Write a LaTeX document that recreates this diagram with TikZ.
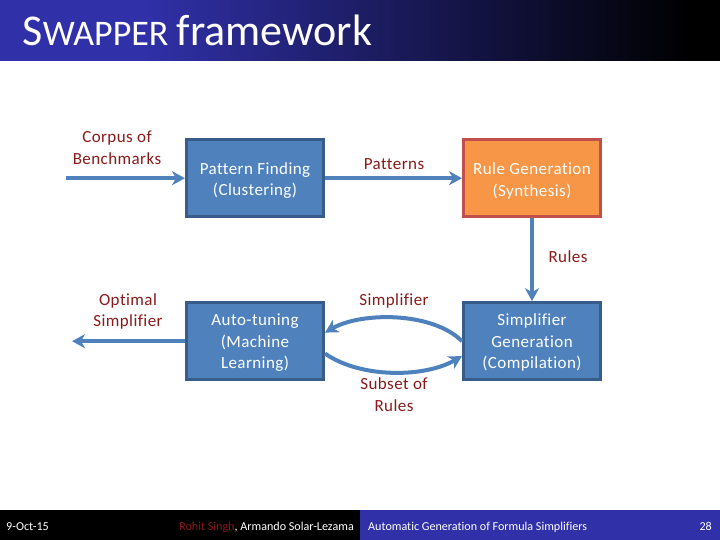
\documentclass[tikz,border=0pt]{standalone}
\usepackage{fontspec}
\usepackage{tikz}
\usetikzlibrary{positioning,arrows.meta}
\setmainfont[Ligatures=NoCommon]{Carlito}
\newfontfamily\labelfont[LetterSpace=2.5,Ligatures=NoCommon]{Carlito}
\definecolor{barblue}{HTML}{3030A8}
\definecolor{boxblue}{HTML}{4F81BD}
\definecolor{edgeblue}{HTML}{385D8A}
\definecolor{boxorange}{HTML}{F79646}
\definecolor{edgered}{HTML}{C0504D}
\definecolor{wordred}{HTML}{8A1A1A}
\newcommand{\droptext}[1]{\rule{0pt}{#1}}
\pgfdeclarehorizontalshading{titleshade}{100bp}{color(0bp)=(barblue); color(35bp)=(barblue); color(73bp)=(black); color(100bp)=(black)}
\tikzset{
	procbox/.style={draw=edgeblue, fill=boxblue, line width=3pt, minimum width=137pt, minimum height=77pt, outer sep=1.5pt, align=center, text=white, font=\labelfont\fontsize{17}{21.5}\selectfont},
	synthbox/.style={procbox, draw=edgered, fill=boxorange},
	wordlabel/.style={align=center, text=wordred, font=\labelfont\fontsize{17}{21.5}\selectfont},
	flow/.style={draw=boxblue, line width=4pt, -{Stealth[length=13pt, width=14pt, inset=4pt]}},
	footer/.style={text=white, inner sep=0pt, font=\fontsize{12.1}{14}\selectfont},
}

\begin{document}
\begin{tikzpicture}[x=1pt, y=-1pt]
	\useasboundingbox (0,0) rectangle (720,540);
	% title and footer bars
	\shade[shading=titleshade] (0,0) rectangle (720,61);
	\fill[black] (0,510) rectangle (360,540);
	\fill[barblue] (360,510) rectangle (720,540);
	\node [anchor=base west, inner sep=0pt, text=white] (title) at (22.5,45.5) {\fontsize{44}{44}\selectfont S\fontsize{36}{44}\selectfont WAPPER \fontsize{44}{44}\selectfont framework};
	\node [footer, anchor=base west] (date) at (6,530) {9-Oct-15};
	\node [footer, anchor=base east] (names) at (354,530) {\textcolor{wordred}{Rohit Singh}, Armando Solar-Lezama};
	\node [footer, anchor=base west] (talk) at (368,530) {Automatic Generation of Formula Simplifiers};
	\node [footer, anchor=base east] (page) at (712,530) {28};
	%
	\node [procbox] (finding) at (255,178.2) {\droptext{17pt}Pattern Finding\\(Clustering)};
	\node [synthbox, right=137pt of finding] (rulegen) {\droptext{17pt}Rule Generation\\(Synthesis)};
	\node [procbox, below=83pt of finding] (tuning) {\droptext{15pt}Auto-tuning\\(Machine\\Learning)};
	\node [procbox, below=83pt of rulegen] (compile) {\droptext{15pt}Simplifier\\Generation\\(Compilation)};
	\coordinate [left=119pt of finding] (corpusin);
	\coordinate [left=113pt of tuning] (optout);
	%
	\node [wordlabel] (corpus) at (117,147.5) {Corpus of\\Benchmarks};
	\node [wordlabel] (patterns) at (394,164) {Patterns};
	\node [wordlabel] (rules) at (568,257) {Rules};
	\node [wordlabel] (optimal) at (128,311.5) {Optimal\\Simplifier};
	\node [wordlabel] (simp) at (394,301) {Simplifier};
	\node [wordlabel] (subset) at (394,394.5) {Subset of\\Rules};
	%
	\draw [flow] (corpusin) -- (finding);
	\draw [flow] (finding) -- (rulegen);
	\draw [flow] (rulegen) -- (compile);
	\draw [flow] (tuning) -- (optout);
	\draw [flow] (compile.west) to [out=135, in=30, looseness=.78] (tuning.7);
	\draw [flow] (tuning.-10) to [out=-35, in=-150, looseness=.81] (compile.192);
\end{tikzpicture}
\end{document}
